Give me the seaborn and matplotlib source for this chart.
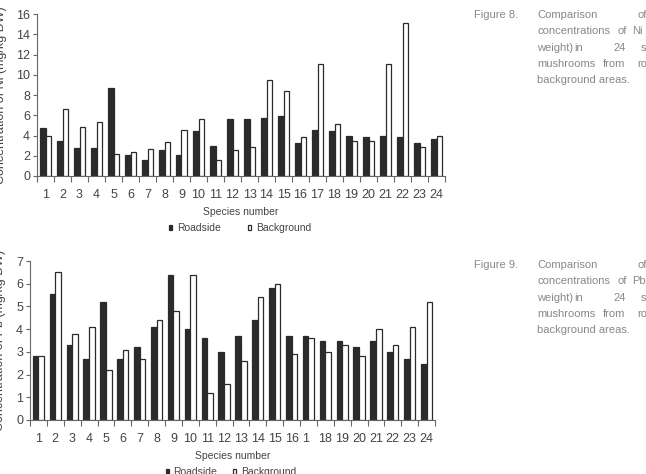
import matplotlib
matplotlib.use("Agg")
import matplotlib.pyplot as plt
import seaborn as sns
import pandas as pd
import numpy as np

species = [str(i) for i in range(1, 25)]
series_names = ["Roadside", "Background"]

ni_roadside = [4.7, 3.5, 2.8, 2.8, 8.7, 2.1, 1.6, 2.6, 2.1, 4.4, 3.0, 5.6,
               5.6, 5.7, 5.9, 3.3, 4.5, 4.4, 4.0, 3.9, 4.0, 3.9, 3.3, 3.7]
ni_background = [4.0, 6.6, 4.8, 5.3, 2.2, 2.4, 2.7, 3.4, 4.5, 5.6, 1.6, 2.6,
                 2.9, 9.5, 8.4, 3.9, 11.1, 5.1, 3.5, 3.5, 11.1, 15.1, 2.9, 4.0]

pb_roadside = [2.8, 5.55, 3.3, 2.7, 5.2, 2.7, 3.2, 4.1, 6.4, 4.0, 3.6, 3.0,
               3.7, 4.4, 5.8, 3.7, 3.7, 3.5, 3.5, 3.2, 3.5, 3.0, 2.7, 2.45]
pb_background = [2.8, 6.5, 3.8, 4.1, 2.2, 3.1, 2.7, 4.4, 4.8, 6.4, 1.2, 1.6,
                 2.6, 5.4, 6.0, 2.9, 3.6, 3.0, 3.3, 2.8, 4.0, 3.3, 4.1, 5.2]

ni_ticklabels = species
pb_ticklabels = species[:16] + ["1 "] + species[17:]

ni_ylabel = "Concentration of Ni (mg/kg DW)"
pb_ylabel = "Concentration of Pb (mg/kg DW)"
xlabel = "Species number"

cap8_label = "Figure 8."
cap8_lines = [["Comparison", "of"], ["concentrations", "of", "Ni"],
              ["weight)", "in", "24", "s"], ["mushrooms", "from", "ro"],
              ["background areas."]]
cap9_label = "Figure 9."
cap9_lines = [["Comparison", "of"], ["concentrations", "of", "Pb"],
              ["weight)", "in", "24", "s"], ["mushrooms", "from", "ro"],
              ["background areas."]]

sns.set_theme(style="white")
plt.rcParams['font.family'] = ['Liberation Sans', 'DejaVu Sans']

W, H = 646, 474
fig = plt.figure(figsize=(W / 100, H / 100), dpi=100)

DARK = "#2b2b2b"
TXT = "#444444"
SPINE = "#666666"


def draw(rect, road, back, ymax, ystep, ticklabels, ylabel, ylab_x, leg_y,
         leg_x, colspace):
    ax = fig.add_axes(rect)
    df = pd.DataFrame({
        "species": species * 2,
        "value": road + back,
        "site": ["Roadside"] * len(species) + ["Background"] * len(species),
    })
    sns.barplot(data=df, x="species", y="value", hue="site", order=species,
                hue_order=series_names,
                palette={"Roadside": DARK, "Background": "white"},
                edgecolor=DARK, linewidth=0.9, width=0.66, gap=0, ax=ax,
                legend=True)
    handles, labels = ax.get_legend_handles_labels()
    ax.get_legend().remove()
    ax.set_xlim(-0.5, len(species) - 0.5)
    ax.set_ylim(0, ymax)
    ticks = np.arange(0, ymax + 0.01, ystep)
    ax.set_yticks(ticks)
    ax.set_yticklabels([f"{v:g}" for v in ticks])
    ax.set_xticks(range(len(species)))
    ax.set_xticklabels(ticklabels)
    ax.set_xticks(np.arange(-0.5, len(species), 1), minor=True)
    ax.tick_params(axis="x", which="major", length=0, pad=9, labelsize=9,
                   labelcolor=TXT)
    ax.tick_params(axis="x", which="minor", bottom=True, length=4, width=0.8,
                   color=SPINE, direction="out")
    ax.tick_params(axis="y", left=True, length=3, width=0.8, color=SPINE,
                   labelsize=9, labelcolor=TXT, pad=2)
    for s in ["top", "right"]:
        ax.spines[s].set_visible(False)
    for s in ["left", "bottom"]:
        ax.spines[s].set_color(SPINE)
        ax.spines[s].set_linewidth(0.8)
    ax.set_xlabel(xlabel, fontsize=7.5, color=TXT, labelpad=5)
    ax.set_ylabel("")
    fig.text(ylab_x / W, rect[1] + rect[3] / 2, ylabel, rotation=90,
             ha="center", va="center", fontsize=9, color=TXT)
    fig.legend(handles, labels, loc="center",
               bbox_to_anchor=(leg_x / W, 1 - leg_y / H), ncol=2,
               frameon=False, handlelength=0.3, handleheight=0.3,
               handletextpad=0.45, columnspacing=colspace, fontsize=7.5,
               labelcolor=TXT)
    return ax


draw([37 / W, 1 - 176 / H, (445 - 37) / W, (176 - 14) / H],
     ni_roadside, ni_background, 16, 2, ni_ticklabels, ni_ylabel, 1, 228,
     240, 2.65)
draw([30 / W, 1 - 420 / H, (435 - 30) / W, (420 - 261) / H],
     pb_roadside, pb_background, 7, 1, pb_ticklabels, pb_ylabel, 0, 472,
     231, 1.5)

CAP = "#888888"
word_x = [
    [537, 637],
    [537, 618, 632],
    [537, 574, 613, 641],
    [537, 603, 637],
    [537],
]


def caption(label, lines, y0):
    fig.text(474 / W, 1 - y0 / H, label, ha="left", va="center",
             fontsize=8, color=CAP)
    for i, words in enumerate(lines):
        y = y0 + i * 16.3
        for w, x in zip(words, word_x[i]):
            fig.text(x / W, 1 - y / H, w, ha="left", va="center",
                     fontsize=8, color=CAP)


caption(cap8_label, cap8_lines, 15)
caption(cap9_label, cap9_lines, 265)

fig.savefig("out.png", dpi=100)
